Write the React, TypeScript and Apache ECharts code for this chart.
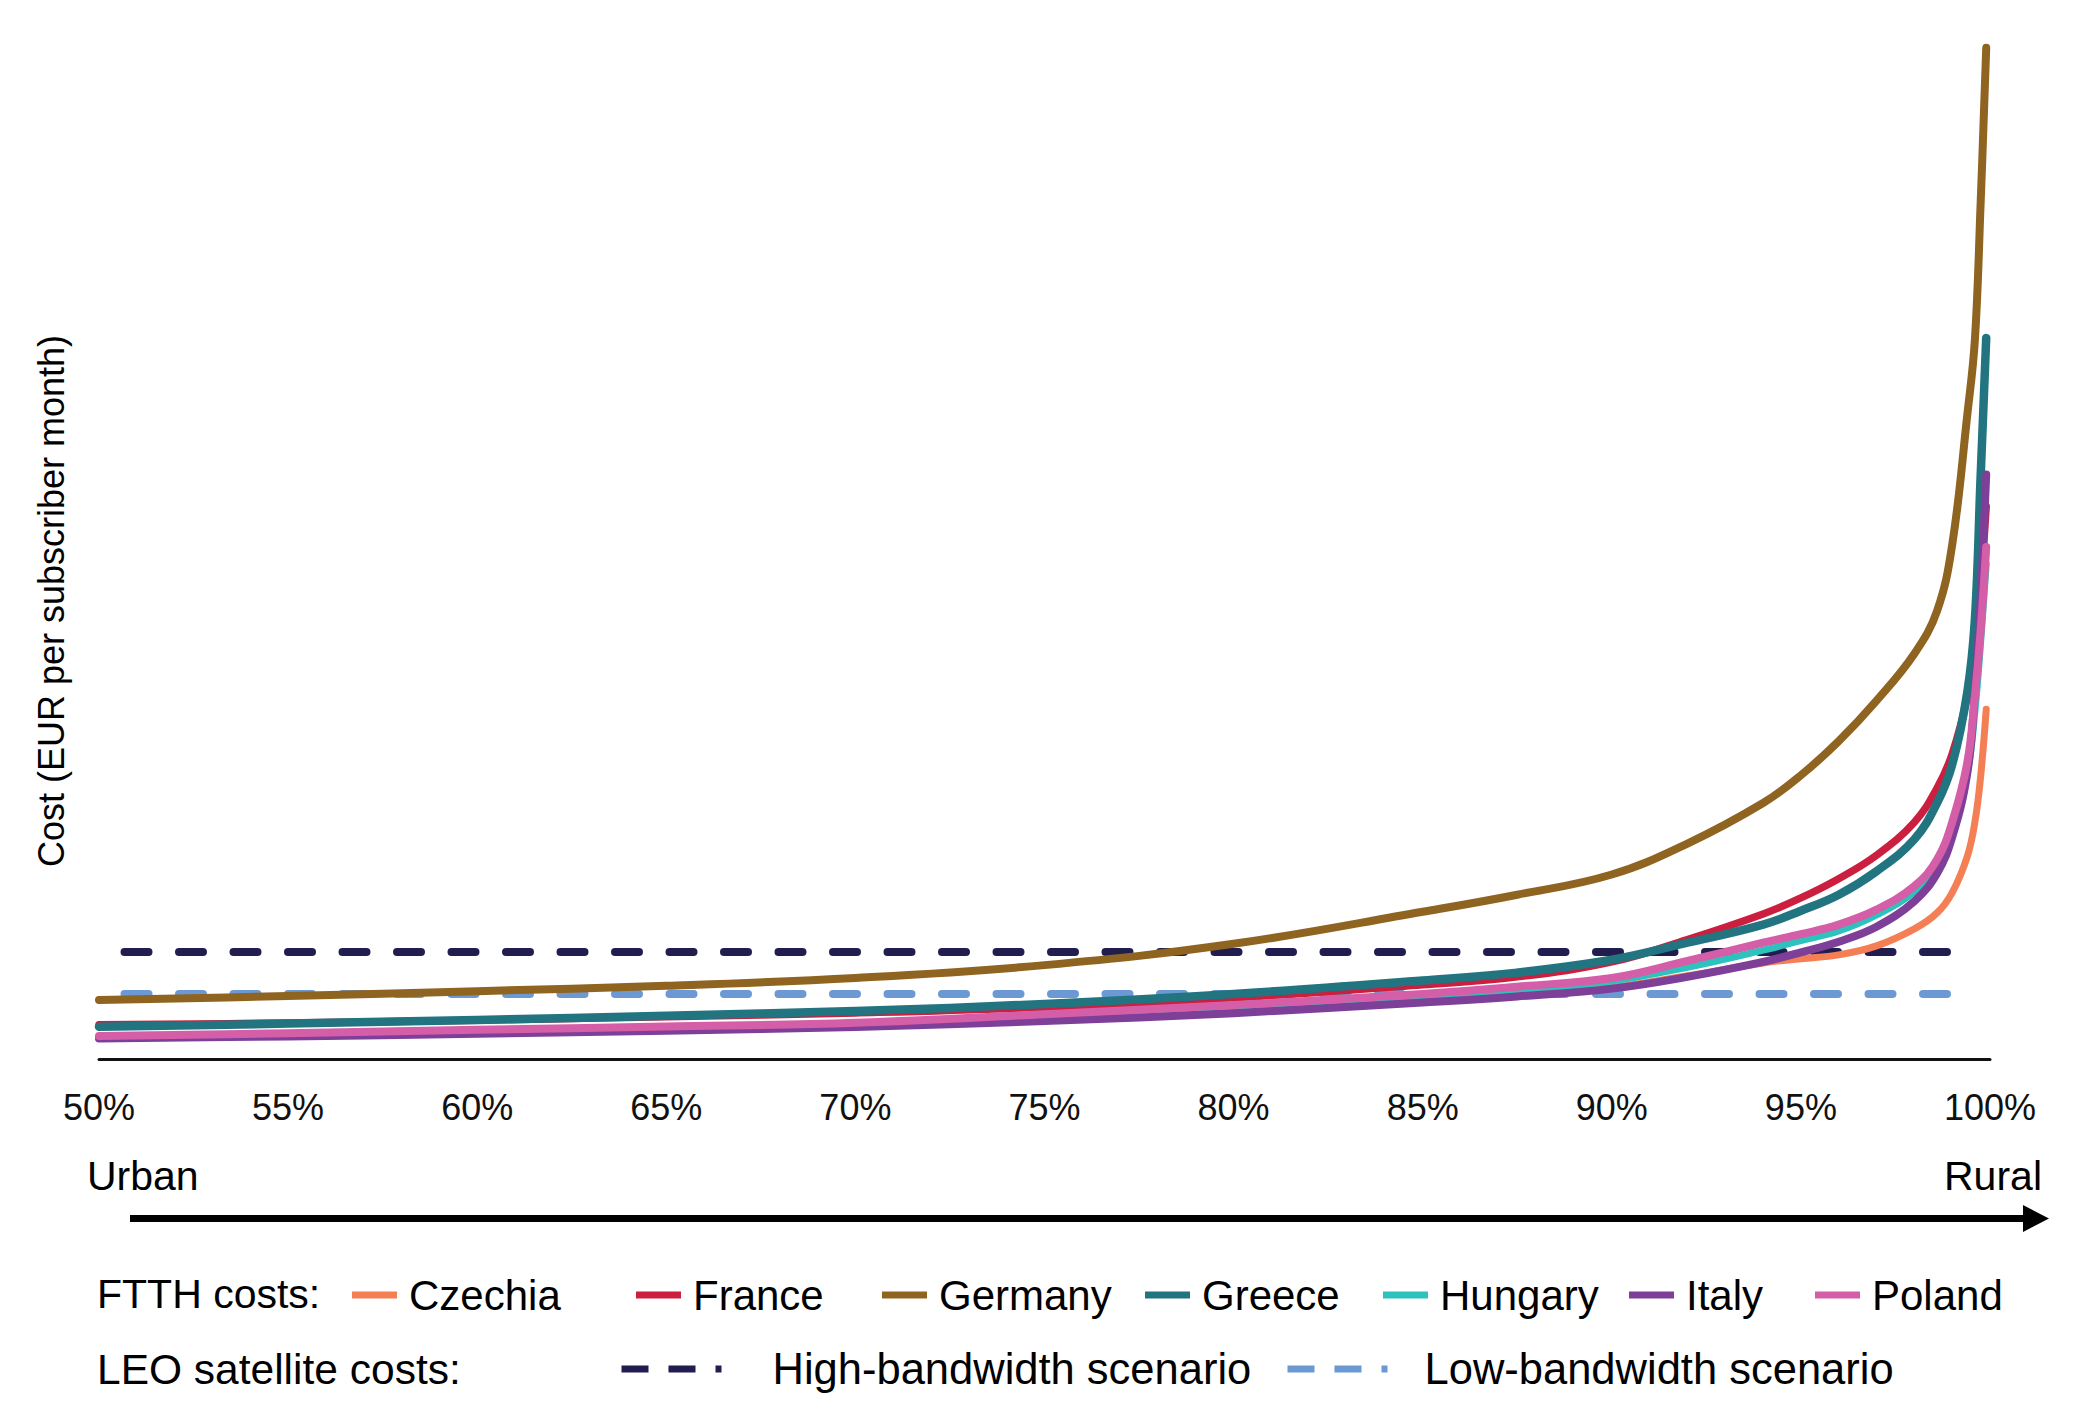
import React, { useEffect, useRef } from "react";
import * as echarts from "echarts";

// ---- data (cost in EUR per subscriber month) ----
const coverage = [50, 55, 60, 65, 70, 75, 80, 85, 87.5, 90, 92, 94, 95, 96, 97, 98, 98.6, 99, 99.4, 99.6, 99.75, 99.9];

const czechia = [10, 11, 12.3, 13.8, 15.5, 18.3, 22, 27, 29.8, 33.5, 39, 45, 47, 48.8, 53, 61, 68.5, 78, 95, 111, 132, 164];
const france = [16, 16.9, 18.2, 19.8, 21.6, 24.3, 28.7, 34.8, 38.5, 45.5, 56, 68, 75.5, 84.5, 95.5, 111, 127, 143, 170, 195, 222, 259];
const germany = [27.7, 29.5, 31.8, 34.3, 38, 44, 54, 69, 77, 86.5, 101, 120, 133, 149, 168, 190, 210, 241, 302, 337, 400, 474];
const greece = [15.1, 16.6, 18.3, 20.3, 22.5, 25.8, 30.5, 36.8, 40.5, 46.5, 54.5, 63, 69.5, 77, 88, 103, 120, 138, 172, 206, 272, 338];
const hungary = [10.2, 11.3, 12.7, 14.2, 16, 19.2, 23.2, 28.5, 31.8, 36.5, 43, 51, 55.5, 60, 67.5, 78.5, 91, 108, 134, 163, 195, 232];
const italy = [9.6, 10.6, 11.8, 13.3, 15, 17.8, 21.5, 26.5, 29.3, 33, 38.5, 45.5, 50, 55, 62, 74, 87, 104, 134, 172, 215, 274];
const poland = [10.8, 12.1, 13.7, 15.2, 17, 21, 25.3, 30.5, 33.9, 38, 46, 54.5, 58.5, 63, 70, 81, 93.5, 111, 139, 170, 200, 240];

const leoCoverage = [50, 99.4];
const leoHigh = [50.2, 50.2];
const leoLow = [30.5, 30.5];

const countryNames = ["Czechia", "France", "Germany", "Greece", "Hungary", "Italy", "Poland"];
const countryValues = [czechia, france, germany, greece, hungary, italy, poland];
const countryColors = ["#F47F55", "#CC1F3F", "#8F6420", "#217480", "#2EC2BE", "#7D3F98", "#D45EA7"];
const countryWidths = [7, 7.5, 8, 8.5, 7, 8, 8];
const countryLegendLeft = [352, 636, 882, 1145, 1383, 1629, 1815];

const leoNames = ["High-bandwidth scenario", "Low-bandwidth scenario"];
const leoValues = [leoHigh, leoLow];
const leoColors = ["#221D4F", "#6C99D3"];
const leoLegendLeft = [618, 1284];
const leoLegendPad = [46, 32];

const xTicks = { min: 50, max: 100, interval: 5 };

const FONT = "'Liberation Sans', Arial, sans-serif";

export default function App() {
  const ref = useRef<HTMLDivElement>(null);

  useEffect(() => {
    document.body.style.margin = "0";
    if (!ref.current) return;
    const chart = echarts.init(ref.current, undefined, { renderer: "svg" });

    const pair = (xs: number[], ys: number[]) => xs.map((x, i) => [x, ys[i]]);

    const leoSeries = leoNames.map((name, i) => ({
      name,
      type: "line",
      data: pair(leoCoverage, leoValues[i]),
      symbol: "none",
      z: 2,
      lineStyle: {
        color: leoColors[i],
        width: 8,
        type: [24, 30.5],
        dashOffset: 29,
        cap: "round",
      },
      itemStyle: { color: leoColors[i] },
    }));

    const countrySeries = countryNames.map((name, i) => ({
      name,
      type: "line",
      data: pair(coverage, countryValues[i]),
      symbol: "none",
      smooth: 0.4,
      z: 3 + i,
      lineStyle: {
        color: countryColors[i],
        width: countryWidths[i],
        cap: "round",
        join: "round",
      },
      itemStyle: { color: countryColors[i] },
    }));

    const legendText = { fontSize: 42, color: "#000", fontFamily: FONT, padding: [0, 0, 0, 7] };

    const countryLegends = countryNames.map((name, i) => ({
      data: [name],
      left: countryLegendLeft[i],
      top: 1274,
      padding: 0,
      icon: "rect",
      itemWidth: 45,
      itemHeight: 7,
      selectedMode: false,
      textStyle: legendText,
    }));

    const leoLegends = leoNames.map((name, i) => ({
      data: [name],
      left: leoLegendLeft[i],
      top: 1347,
      padding: 0,
      itemWidth: 100,
      itemHeight: 7,
      selectedMode: false,
      lineStyle: { width: 7, type: [27, 20], dashOffset: 0, cap: "butt" },
      textStyle: { ...legendText, fontSize: 43.5, padding: [0, 0, 0, leoLegendPad[i]] },
    }));

    chart.setOption({
      animation: false,
      backgroundColor: "#fff",
      textStyle: { fontFamily: FONT },
      grid: {
        left: 99,
        right: 89,
        top: 35,
        bottom: 363,
        containLabel: false,
        outerBoundsMode: "none",
      },
      xAxis: {
        type: "value",
        min: xTicks.min,
        max: xTicks.max,
        interval: xTicks.interval,
        axisLine: { show: true, lineStyle: { color: "#111", width: 3 } },
        axisTick: { show: false },
        splitLine: { show: false },
        axisLabel: {
          formatter: "{value}%",
          fontSize: 36,
          color: "#111",
          fontFamily: FONT,
          margin: 30,
          showMinLabel: true,
          showMaxLabel: true,
        },
      },
      yAxis: {
        type: "value",
        min: 0,
        max: 480,
        show: false,
        splitLine: { show: false },
      },
      legend: [...countryLegends, ...leoLegends],
      series: [...leoSeries, ...countrySeries],
      graphic: [
        {
          type: "text",
          x: 51,
          y: 601,
          rotation: Math.PI / 2,
          style: {
            text: "Cost (EUR per subscriber month)",
            fontSize: 36,
            fontFamily: FONT,
            fill: "#000",
            align: "center",
            verticalAlign: "middle",
          },
        },
        {
          type: "text",
          x: 87,
          y: 1176,
          style: { text: "Urban", fontSize: 41, fontFamily: FONT, fill: "#000", align: "left", verticalAlign: "middle" },
        },
        {
          type: "text",
          x: 2042,
          y: 1176,
          style: { text: "Rural", fontSize: 41, fontFamily: FONT, fill: "#000", align: "right", verticalAlign: "middle" },
        },
        {
          type: "line",
          shape: { x1: 130, y1: 1218.5, x2: 2025, y2: 1218.5 },
          style: { stroke: "#000", lineWidth: 7 },
        },
        {
          type: "polygon",
          shape: { points: [[2023, 1205], [2049, 1218.5], [2023, 1232]] },
          style: { fill: "#000" },
        },
        {
          type: "text",
          x: 97,
          y: 1294,
          style: { text: "FTTH costs:", fontSize: 41, fontFamily: FONT, fill: "#000", align: "left", verticalAlign: "middle" },
        },
        {
          type: "text",
          x: 97,
          y: 1369,
          style: { text: "LEO satellite costs:", fontSize: 42.5, fontFamily: FONT, fill: "#000", align: "left", verticalAlign: "middle" },
        },
      ],
    });

    return () => chart.dispose();
  }, []);

  return <div ref={ref} style={{ width: 2079, height: 1422 }} />;
}
